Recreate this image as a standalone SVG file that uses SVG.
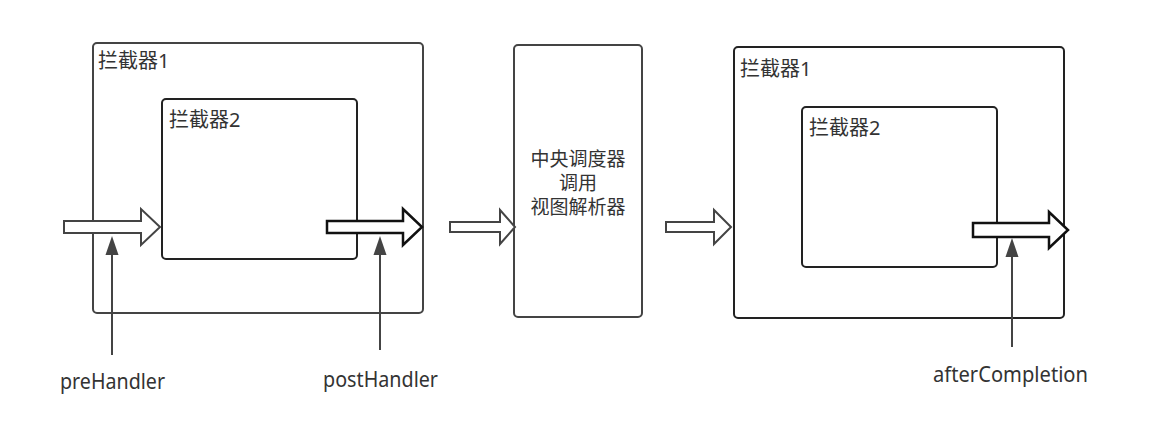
<svg xmlns="http://www.w3.org/2000/svg" width="1154" height="436" viewBox="0 0 1154 436">
<defs>
<style>
.box{fill:#fff;stroke:#444;stroke-width:2}
.boxd{fill:#fff;stroke:#222;stroke-width:2}
.blk{fill:#fff;stroke:#444;stroke-width:2;stroke-linejoin:miter}
.blkd{fill:#fff;stroke:#111;stroke-width:2.5;stroke-linejoin:miter}
.ln{stroke:#444;stroke-width:2;fill:none}
.hd{fill:#444}
.t{font-family:"Noto Sans","Noto Sans CJK SC",sans-serif;font-size:19px;fill:#333}
.k{font-size:20px}
.l{font-family:"Noto Sans",sans-serif;font-size:21px;fill:#333}
.c{text-anchor:middle}
</style>
</defs>
<rect width="1154" height="436" fill="#fff"/>
<g id="interceptor1-left">
<rect class="box" x="93" y="43" width="330" height="270" rx="4"/>
<text class="t k" x="98" y="68">拦截器1</text>
</g>
<g id="interceptor2-left">
<rect class="boxd" x="162" y="99" width="195" height="160" rx="4"/>
<text class="t k" x="169" y="127">拦截器2</text>
</g>
<g id="dispatcher">
<rect class="box" x="514" y="45" width="128" height="272" rx="4"/>
<text class="t c" x="578" y="166">中央调度器</text>
<text class="t c" x="578" y="190">调用</text>
<text class="t c" x="578" y="214">视图解析器</text>
</g>
<g id="interceptor1-right">
<rect class="boxd" x="734" y="47" width="330" height="271" rx="4"/>
<text class="t k" x="740" y="76">拦截器1</text>
</g>
<g id="interceptor2-right">
<rect class="boxd" x="802" y="107" width="195" height="160" rx="4"/>
<text class="t k" x="809" y="135">拦截器2</text>
</g>
<g id="connectors">
<path class="blk" d="M64,221 L141,221 L141,209 L160,227 L141,245 L141,233 L64,233 Z"/>
<path class="blkd" d="M327,221 L403,221 L403,209 L422,227 L403,245 L403,233 L327,233 Z"/>
<path class="blk" d="M450,222 L500,222 L500,210 L515,227 L500,244 L500,232 L450,232 Z"/>
<path class="blk" d="M666,222 L714,222 L714,210 L731,227 L714,244 L714,232 L666,232 Z"/>
<path class="blkd" d="M973,223 L1049,223 L1049,212 L1068,230 L1049,248 L1049,237 L973,237 Z"/>
<line class="ln" x1="112" y1="355" x2="112" y2="250"/>
<path class="hd" d="M112,236 L118.5,255 L105.5,255 Z"/>
<line class="ln" x1="380" y1="350" x2="380" y2="250"/>
<path class="hd" d="M380,236 L386.5,255 L373.5,255 Z"/>
<line class="ln" x1="1012" y1="347" x2="1012" y2="252"/>
<path class="hd" d="M1012,238 L1018.5,257 L1005.5,257 Z"/>
</g>
<g id="labels">
<text class="l" x="60" y="389" textLength="105" lengthAdjust="spacingAndGlyphs">preHandler</text>
<text class="l" x="323" y="387" textLength="115" lengthAdjust="spacingAndGlyphs">postHandler</text>
<text class="l" x="933" y="382" textLength="155" lengthAdjust="spacingAndGlyphs">afterCompletion</text>
</g>
</svg>
